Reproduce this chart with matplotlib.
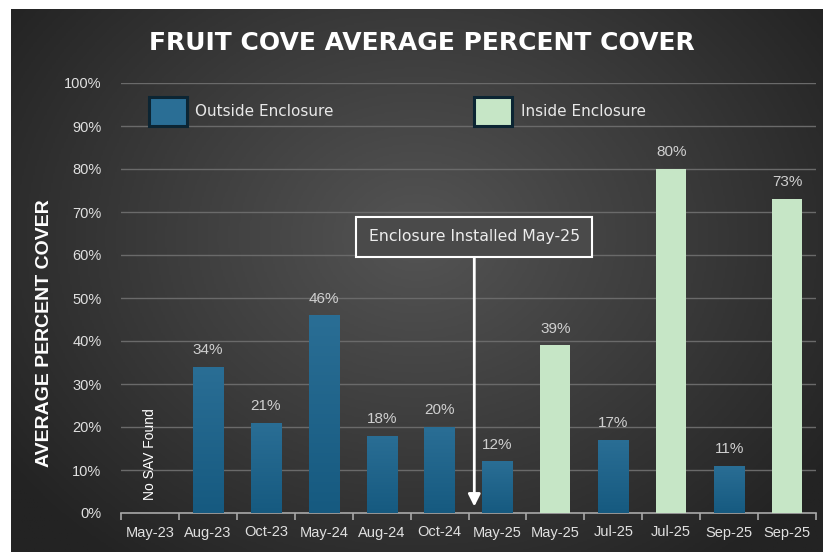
import numpy as np
import matplotlib
matplotlib.use("Agg")
import matplotlib.pyplot as plt
from matplotlib.colors import LinearSegmentedColormap
from matplotlib.patches import Patch

# ---------------------------------------------------------------- data
categories = ["May-23", "Aug-23", "Oct-23", "May-24", "Aug-24", "Oct-24",
              "May-25", "May-25", "Jul-25", "Jul-25", "Sep-25", "Sep-25"]
values = [None, 34, 21, 46, 18, 20, 12, 39, 17, 80, 11, 73]
inside = [False, False, False, False, False, False,
          False, True, False, True, False, True]
y_ticks = [0, 10, 20, 30, 40, 50, 60, 70, 80, 90, 100]

# ---------------------------------------------------------------- style
COLOR_OUT_TOP = "#2a6e95"
COLOR_OUT_BOT = "#165a80"
COLOR_IN = "#c6e6c6"
COLOR_TXT = "#e0e0e0"
COLOR_GRID = "#6a6a6a"
SANS = ["Liberation Sans", "DejaVu Sans"]
BODY = ["DejaVu Sans"]

W, H = 823, 552
fig = plt.figure(figsize=(W / 100, H / 100), dpi=100, facecolor="white")

# radial dark background
bg = fig.add_axes([11 / W, 0, 1 - 11 / W, 1 - 9 / H], zorder=-10)
gx, gy = np.meshgrid(np.linspace(0, 1, 400), np.linspace(0, 1, 300))
r = np.sqrt(((gx - 0.5) / 0.62) ** 2 + ((gy - 0.42) / 0.75) ** 2)
bg_cmap = LinearSegmentedColormap.from_list("bg", ["#545454", "#3c3c3c", "#232323"])
bg.imshow(np.clip(r, 0, 1), cmap=bg_cmap, aspect="auto", extent=(0, 1, 0, 1),
          origin="upper", vmin=0, vmax=1)
bg.set_axis_off()

ax = fig.add_axes([121 / W, 39 / H, (816 - 121) / W, 430 / H])
ax.set_facecolor("none")

x = np.arange(len(categories))
bar_cmap = LinearSegmentedColormap.from_list("bar", [COLOR_OUT_BOT, COLOR_OUT_TOP])
width = 0.52
for i, (v, ins) in enumerate(zip(values, inside)):
    if v is None:
        continue
    if ins:
        ax.bar(i, v, width=width, color=COLOR_IN, zorder=3)
    else:
        bars = ax.bar(i, v, width=width, color=COLOR_OUT_BOT, zorder=3)
        grad = np.linspace(0, 1, 100).reshape(-1, 1)
        im = ax.imshow(grad, cmap=bar_cmap, aspect="auto", origin="lower",
                       extent=(i - width / 2, i + width / 2, 0, v), zorder=3.1)
        im.set_clip_path(bars[0])
    ax.annotate(f"{v}%", xy=(i, v), xytext=(0, 12), textcoords="offset points",
                ha="center", va="center", color="#cfcfcf", fontsize=11,
                family=SANS, zorder=5)

ax.text(0, 13.7, "No SAV Found", rotation=90, ha="center", va="center",
        color="white", fontsize=10, family=SANS)

ax.set_xlim(-0.5, len(categories) - 0.5)
ax.set_ylim(0, 100)
ax.set_yticks(y_ticks)
ax.set_yticklabels([f"{t}%" for t in y_ticks])
ax.set_xticks(x)
ax.set_xticklabels(categories)
ax.set_xticks(np.arange(-0.5, len(categories)), minor=True)
ax.tick_params(axis="x", which="major", length=0, pad=9, colors=COLOR_TXT, labelsize=10.5)
ax.tick_params(axis="x", which="minor", length=5, width=1.2, color="#a8a8a8")
ax.tick_params(axis="y", length=0, pad=14, colors=COLOR_TXT, labelsize=10.5)
for lab in ax.get_xticklabels() + ax.get_yticklabels():
    lab.set_family(SANS)

ax.grid(axis="y", color=COLOR_GRID, lw=1, zorder=0)
ax.set_axisbelow(True)
for side in ("top", "right", "left"):
    ax.spines[side].set_visible(False)
ax.spines["bottom"].set_color("#a8a8a8")
ax.spines["bottom"].set_linewidth(1.2)

# legend
handles = [Patch(facecolor=COLOR_OUT_TOP, edgecolor="#0c2533", lw=2.2,
                 label="Outside Enclosure"),
           Patch(facecolor=COLOR_IN, edgecolor="#0c2533", lw=2.2,
                 label="Inside Enclosure")]
leg = ax.legend(handles=handles, loc="upper left", ncol=2, frameon=False,
                bbox_to_anchor=(0.02, 1.0), handlelength=2.5, handleheight=2.6,
                handletextpad=0.55, columnspacing=9.2,
                prop={"family": BODY, "size": 11})
for t in leg.get_texts():
    t.set_color("#e8e8e8")

# annotation
arrow_x = 5.6
ax.annotate("", xy=(arrow_x, 1.5), xytext=(arrow_x, 59.6),
            arrowprops=dict(arrowstyle="-|>", color="white", lw=2,
                            mutation_scale=18, shrinkA=0, shrinkB=0), zorder=6)
ax.text(arrow_x, 64.2, "Enclosure Installed May-25", ha="center", va="center",
        color="#ececec", fontsize=11.3, family=BODY, zorder=7,
        bbox=dict(boxstyle="square,pad=0.8", facecolor="#4a4a4a",
                  edgecolor="white", lw=1.5))

fig.text(0.513, 1 - 43 / H, "FRUIT COVE AVERAGE PERCENT COVER", ha="center",
         va="center", color="white", fontsize=18, fontweight="bold", family=BODY)
fig.text(45 / W, 1 - 333 / H, "AVERAGE PERCENT COVER", rotation=90, ha="center",
         va="center", color="white", fontsize=14, fontweight="bold", family=SANS)

fig.savefig("out.png", dpi=100)
